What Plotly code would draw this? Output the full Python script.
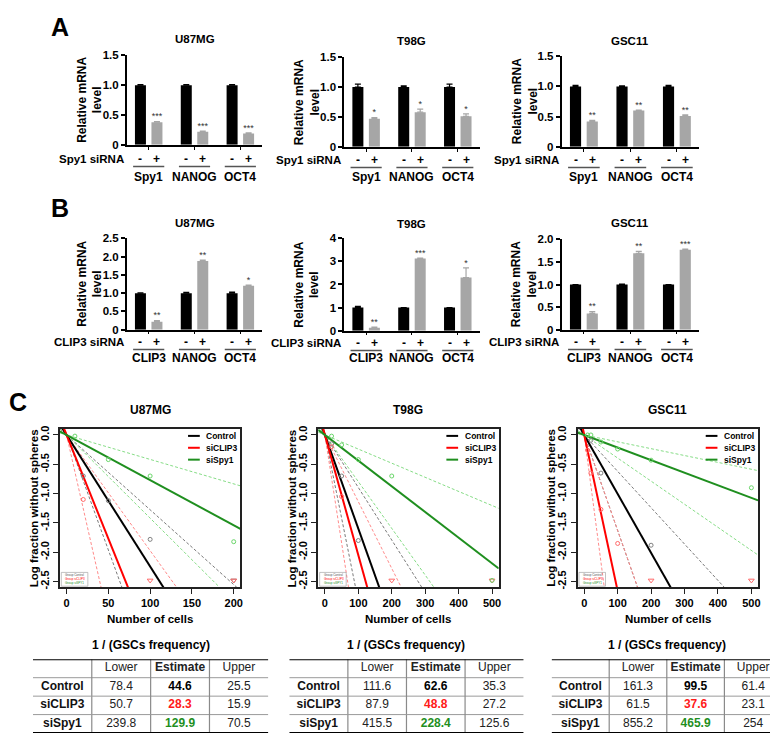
import plotly.graph_objects as go

W, H = 778, 733
FONT = "Liberation Sans, Arial, Helvetica, sans-serif"

# ---------------- Panel A data (Spy1 siRNA) ----------------
genes_a = ["Spy1", "NANOG", "OCT4"]
yticks_a = [0, 0.5, 1.0, 1.5]

a_u87_ctrl = [1.0, 1.0, 1.0]
a_u87_ctrl_err = [0.01, 0.01, 0.01]
a_u87_si = [0.38, 0.22, 0.19]
a_u87_si_err = [0.01, 0.01, 0.01]
a_u87_stars = ["***", "***", "***"]

a_t98_ctrl = [1.0, 1.0, 1.0]
a_t98_ctrl_err = [0.05, 0.02, 0.05]
a_t98_si = [0.47, 0.58, 0.51]
a_t98_si_err = [0.02, 0.05, 0.04]
a_t98_stars = ["*", "*", "*"]

a_gsc_ctrl = [1.0, 1.0, 1.0]
a_gsc_ctrl_err = [0.02, 0.01, 0.02]
a_gsc_si = [0.42, 0.60, 0.51]
a_gsc_si_err = [0.02, 0.01, 0.02]
a_gsc_stars = ["**", "**", "**"]

# ---------------- Panel B data (CLIP3 siRNA) ----------------
genes_b = ["CLIP3", "NANOG", "OCT4"]
yticks_b_u87 = [0, 0.5, 1.0, 1.5, 2.0, 2.5]
yticks_b_t98 = [0, 1, 2, 3, 4]
yticks_b_gsc = [0, 0.5, 1.0, 1.5, 2.0]

b_u87_ctrl = [1.0, 1.0, 1.0]
b_u87_ctrl_err = [0.01, 0.02, 0.03]
b_u87_si = [0.22, 1.88, 1.20]
b_u87_si_err = [0.03, 0.02, 0.02]
b_u87_stars = ["**", "**", "*"]

b_t98_ctrl = [1.0, 1.0, 1.0]
b_t98_ctrl_err = [0.05, 0.0, 0.0]
b_t98_si = [0.13, 3.12, 2.30]
b_t98_si_err = [0.03, 0.02, 0.42]
b_t98_stars = ["**", "***", "*"]

b_gsc_ctrl = [1.0, 1.0, 1.0]
b_gsc_ctrl_err = [0.0, 0.01, 0.0]
b_gsc_si = [0.36, 1.69, 1.77]
b_gsc_si_err = [0.04, 0.04, 0.01]
b_gsc_stars = ["**", "**", "***"]

# ---------------- Panel C data (ELDA) ----------------
groups = ["Control", "siCLIP3", "siSpy1"]

u87_lower = [78.4, 50.7, 239.8]
u87_est = [44.6, 28.3, 129.9]
u87_upper = [25.5, 15.9, 70.5]
t98_lower = [111.6, 87.9, 415.5]
t98_est = [62.6, 48.8, 228.4]
t98_upper = [35.3, 27.2, 125.6]
gsc_lower = [161.3, 61.5, 855.2]
gsc_est = [99.5, 37.6, 465.9]
gsc_upper = [61.4, 23.1, 254]

# observed log fraction without spheres (circles) per group
u87_dose = [[20, 50, 100], [20], [10, 50, 100, 200]]
u87_logfrac = [[-0.70, -1.12, -1.78], [-1.10], [-0.02, -0.42, -0.70, -1.82]]
u87_all_sphere = [[200], [100, 200], []]

t98_dose = [[20, 50, 100], [20, 50], [20, 50, 100, 200, 500]]
t98_logfrac = [[-0.15, -0.70, -1.80], [-0.20, -1.05], [-0.02, -0.17, -0.42, -0.70, -2.48]]
t98_all_sphere = [[], [200, 500], []]

gsc_dose = [[20, 50, 200], [10, 20, 50, 100], [10, 20, 50, 100, 200, 500]]
gsc_logfrac = [[-0.09, -0.65, -1.88], [-0.26, -0.65, -1.27, -1.85],
               [0.0, 0.0, -0.12, -0.24, -0.43, -0.90]]
gsc_all_sphere = [[], [200, 500], []]

u87_xticks = [0, 50, 100, 150, 200]
big_xticks = [0, 100, 200, 300, 400, 500]
elda_yticks = [0.0, -0.5, -1.0, -1.5, -2.0, -2.5]

# ---------------- styles ----------------
solid_colors = ["black", "#ff0000", "#1f8f1f"]
dash_colors = ["#7a7a7a", "#ff8a8a", "#86dc86"]
point_colors = ["#808080", "#ff6a6a", "#6ad66a"]
est_colors = ["black", "#ff1a1a", "#1f8f1f"]

fig = go.Figure()
ann, shp, axes = [], [], {}


def xn(i): return "xaxis" if i == 1 else f"xaxis{i}"
def yn(i): return "yaxis" if i == 1 else f"yaxis{i}"
def xr(i): return "x" if i == 1 else f"x{i}"
def yr(i): return "y" if i == 1 else f"y{i}"
def px(v): return v / W
def py(v): return 1 - v / H


def font(size, color="black", bold=True):
    return dict(family=FONT, size=size, color=color, weight="bold" if bold else "normal")


def label(x, y, s, size, xref="paper", yref="paper", xanchor="center",
          yanchor="middle", angle=0, color="black", bold=True):
    ann.append(dict(x=x, y=y, xref=xref, yref=yref, text=s, showarrow=False,
                    xanchor=xanchor, yanchor=yanchor, textangle=angle,
                    font=font(size, color, bold)))


OFF = 0.18
BW = 0.24


def bar_panel(i, box, yticks, dec, cell, genes, ctrl, ctrl_err, si, si_err, stars,
              sirna, title_y, row_y, ul_y, gene_y):
    l, r, t, b = box
    n = len(genes)
    xc = [k - OFF for k in range(n)]
    xs = [k + OFF for k in range(n)]
    fig.add_trace(go.Bar(x=xc, y=ctrl, width=BW, marker=dict(color="black", line=dict(width=0)),
                         error_y=dict(type="data", symmetric=False, array=ctrl_err,
                                      arrayminus=[0] * n, color="black", thickness=1.2, width=3),
                         xaxis=xr(i), yaxis=yr(i), hoverinfo="skip"))
    fig.add_trace(go.Bar(x=xs, y=si, width=BW, marker=dict(color="#a6a6a6", line=dict(width=0)),
                         error_y=dict(type="data", symmetric=False, array=si_err,
                                      arrayminus=[0] * n, color="#a6a6a6", thickness=1.2, width=3),
                         xaxis=xr(i), yaxis=yr(i), hoverinfo="skip"))
    fig.add_trace(go.Scatter(x=xs, y=[v + e for v, e in zip(si, si_err)], mode="text",
                             text=stars, textposition="top center",
                             textfont=dict(family=FONT, size=9, color="#333333"),
                             cliponaxis=False, xaxis=xr(i), yaxis=yr(i), hoverinfo="skip"))
    axes[xn(i)] = dict(domain=[px(l), px(r)], anchor=yr(i), range=[-0.48, n - 0.52],
                       showline=True, linecolor="black", linewidth=1.5, ticks="outside",
                       tickvals=list(range(n)), ticklen=3, tickwidth=1.2, tickcolor="black",
                       showticklabels=False, showgrid=False, zeroline=False)
    ticktext = ["0" if v == 0 else f"{v:.{dec}f}" for v in yticks]
    axes[yn(i)] = dict(domain=[py(b), py(t)], anchor=xr(i), range=[0, yticks[-1]],
                       showline=True, linecolor="black", linewidth=1.5, ticks="outside",
                       tickvals=yticks, ticktext=ticktext, ticklen=4, tickwidth=1.5,
                       tickcolor="black", tickfont=font(11.5), showgrid=False, zeroline=False)
    label(px((l + r) / 2), py(title_y), cell, 11.5)
    label(px(l - 37), py((t + b) / 2), "Relative mRNA<br>level", 12, angle=-90)
    label(px(l - 1), py(row_y), sirna, 11.5, xanchor="right")
    for k in range(n):
        label(xc[k], py(row_y), "-", 12, xref=xr(i))
        label(xs[k], py(row_y), "+", 12, xref=xr(i))
        label(k, py(gene_y), genes[k], 12, xref=xr(i))
        shp.append(dict(type="line", xref=xr(i), yref="paper", x0=k - 0.34, x1=k + 0.34,
                        y0=py(ul_y), y1=py(ul_y), line=dict(color="#555555", width=1.5)))


def elda_panel(i, box, xrange, xticks, cell, est, lower, upper, dose, logfrac, all_sphere):
    l, r, t, b = box
    xa, ya = xr(i), yr(i)
    for g in range(len(groups)):
        for bound in (lower[g], upper[g]):
            fig.add_trace(go.Scatter(x=xrange, y=[-x / bound for x in xrange], mode="lines",
                                     line=dict(color=dash_colors[g], width=1, dash="3px,2px"),
                                     xaxis=xa, yaxis=ya, hoverinfo="skip"))
    for g in range(len(groups)):
        fig.add_trace(go.Scatter(x=xrange, y=[-x / est[g] for x in xrange], mode="lines",
                                 line=dict(color=solid_colors[g], width=2),
                                 xaxis=xa, yaxis=ya, hoverinfo="skip"))
    for g in range(len(groups)):
        fig.add_trace(go.Scatter(x=dose[g], y=logfrac[g], mode="markers",
                                 marker=dict(symbol="circle-open", size=4, color=point_colors[g],
                                             line=dict(width=1)),
                                 xaxis=xa, yaxis=ya, hoverinfo="skip"))
        fig.add_trace(go.Scatter(x=all_sphere[g], y=[elda_yticks[-1] + 0.02] * len(all_sphere[g]),
                                 mode="markers",
                                 marker=dict(symbol="triangle-down-open", size=5,
                                             color=point_colors[g], line=dict(width=1)),
                                 xaxis=xa, yaxis=ya, hoverinfo="skip"))
    axes[xn(i)] = dict(domain=[px(l), px(r)], anchor=ya, range=xrange, showline=True,
                       mirror=True, linecolor="#222222", linewidth=1.5, ticks="outside",
                       tickvals=xticks, ticklen=5, tickwidth=1.2, tickcolor="#222222",
                       tickfont=font(11), showgrid=False, zeroline=False)
    axes[yn(i)] = dict(domain=[py(b), py(t)], anchor=xa, range=[-2.6, 0.1], showline=True,
                       mirror=True, linecolor="#222222", linewidth=1.5, ticks="outside",
                       tickvals=elda_yticks, ticktext=[f"{v:.1f}" for v in elda_yticks],
                       tickangle=-90, ticklen=5, tickwidth=1.2, tickcolor="#222222",
                       tickfont=font(11), showgrid=False, zeroline=False)
    label(px((l + r) / 2), py(403), cell, 12)
    label(px((l + r) / 2), py(615), "Number of cells", 11.5)
    label(px(l - 26), py((t + b) / 2), "Log fraction without spheres", 11.5, angle=-90)
    # legend
    for g, name in enumerate(groups):
        yy = 0.957 - 0.075 * g
        shp.append(dict(type="line", xref=f"{xa} domain", yref=f"{ya} domain",
                        x0=0.71, x1=0.775, y0=yy, y1=yy,
                        line=dict(color=solid_colors[g], width=2)))
        label(0.80, yy, name, 8.5, xref=f"{xa} domain", yref=f"{ya} domain", xanchor="left")
    # tiny group legend bottom-left
    shp.append(dict(type="rect", xref=f"{xa} domain", yref=f"{ya} domain",
                    x0=0.008, x1=0.155, y0=0.008, y1=0.095,
                    line=dict(color="#999999", width=0.6)))
    for g, name in enumerate(["Group Control", "Group siCLIP3", "Group siSPY1"]):
        label(0.02, 0.077 - 0.026 * g, name, 3, xref=f"{xa} domain", yref=f"{ya} domain",
              xanchor="left", color=solid_colors[g] if g else "#555555", bold=False)


def table_panel(i, box, lower, est, upper):
    l, r, t, b = box
    xa, ya = xr(i), yr(i)
    axes[xn(i)] = dict(domain=[px(l), px(r)], anchor=ya, range=[0, 4], visible=False)
    axes[yn(i)] = dict(domain=[py(b), py(t)], anchor=xa, range=[4, 0], visible=False)
    label(px((l + r) / 2), py(642), "1 / (GSCs frequency)", 12)
    tf = dict(family=FONT, size=12, color="#222222")
    fig.add_trace(go.Scatter(x=[1.5, 2.5, 3.5], y=[0.5] * 3, mode="text",
                             text=["Lower", "<b>Estimate</b>", "Upper"], textfont=tf,
                             xaxis=xa, yaxis=ya, hoverinfo="skip"))
    rows = [g + 1.5 for g in range(len(groups))]
    fig.add_trace(go.Scatter(x=[0.5] * 3, y=rows, mode="text",
                             text=[f"<b>{g}</b>" for g in groups],
                             textfont=dict(family=FONT, size=12, color="#111111"),
                             xaxis=xa, yaxis=ya, hoverinfo="skip"))
    fig.add_trace(go.Scatter(x=[1.5] * 3, y=rows, mode="text", text=[f"{v:g}" for v in lower],
                             textfont=tf, xaxis=xa, yaxis=ya, hoverinfo="skip"))
    fig.add_trace(go.Scatter(x=[2.5] * 3, y=rows, mode="text", text=[f"<b>{v:g}</b>" for v in est],
                             textfont=dict(family=FONT, size=12, color=est_colors),
                             xaxis=xa, yaxis=ya, hoverinfo="skip"))
    fig.add_trace(go.Scatter(x=[3.5] * 3, y=rows, mode="text", text=[f"{v:g}" for v in upper],
                             textfont=tf, xaxis=xa, yaxis=ya, hoverinfo="skip"))
    for k in range(1, 4):
        shp.append(dict(type="line", xref=xa, yref=ya, x0=0, x1=4, y0=k, y1=k,
                        line=dict(color="#9a9a9a", width=1)))
        shp.append(dict(type="line", xref=xa, yref=ya, x0=k, x1=k, y0=0, y1=4,
                        line=dict(color="#8a8a8a", width=1.2)))
    for k in (0, 4):
        shp.append(dict(type="line", xref=xa, yref=ya, x0=0, x1=4, y0=k, y1=k,
                        line=dict(color="black", width=2)))


# Panel A
bar_panel(1, (119, 255, 42, 133), yticks_a, 1, "U87MG", genes_a, a_u87_ctrl, a_u87_ctrl_err,
          a_u87_si, a_u87_si_err, a_u87_stars, "Spy1 siRNA", 25, 147, 155, 166)
bar_panel(2, (337, 473, 44, 135), yticks_a, 1, "T98G", genes_a, a_t98_ctrl, a_t98_ctrl_err,
          a_t98_si, a_t98_si_err, a_t98_stars, "Spy1 siRNA", 27, 148, 156, 166)
bar_panel(3, (555, 693, 43, 135), yticks_a, 1, "GSC11", genes_a, a_gsc_ctrl, a_gsc_ctrl_err,
          a_gsc_si, a_gsc_si_err, a_gsc_stars, "Spy1 siRNA", 27, 148, 156, 166)
# Panel B
bar_panel(4, (119, 255, 228, 321), yticks_b_u87, 1, "U87MG", genes_b, b_u87_ctrl, b_u87_ctrl_err,
          b_u87_si, b_u87_si_err, b_u87_stars, "CLIP3 siRNA", 212, 333, 341, 350)
bar_panel(5, (337, 473, 228, 322), yticks_b_t98, 0, "T98G", genes_b, b_t98_ctrl, b_t98_ctrl_err,
          b_t98_si, b_t98_si_err, b_t98_stars, "CLIP3 siRNA", 213, 334, 342, 350)
bar_panel(6, (555, 693, 229, 321), yticks_b_gsc, 1, "GSC11", genes_b, b_gsc_ctrl, b_gsc_ctrl_err,
          b_gsc_si, b_gsc_si_err, b_gsc_stars, "CLIP3 siRNA", 212, 333, 341, 350)
# Panel C
elda_panel(7, (52, 233, 422, 583), [-8, 208], u87_xticks, "U87MG", u87_est, u87_lower, u87_upper,
           u87_dose, u87_logfrac, u87_all_sphere)
elda_panel(8, (311, 492, 422, 583), [-20, 520], big_xticks, "T98G", t98_est, t98_lower, t98_upper,
           t98_dose, t98_logfrac, t98_all_sphere)
elda_panel(9, (571, 752, 422, 583), [-20, 520], big_xticks, "GSC11", gsc_est, gsc_lower, gsc_upper,
           gsc_dose, gsc_logfrac, gsc_all_sphere)
table_panel(10, (25, 261, 656, 731), u87_lower, u87_est, u87_upper)
table_panel(11, (282, 517, 656, 731), t98_lower, t98_est, t98_upper)
table_panel(12, (545, 776, 656, 731), gsc_lower, gsc_est, gsc_upper)

# panel letters
label(px(52), py(13), "A", 25)
label(px(52), py(197), "B", 25)
label(px(10), py(394), "C", 25)

fig.update_layout(width=W, height=H, margin=dict(l=0, r=0, t=0, b=0),
                  paper_bgcolor="white", plot_bgcolor="white", showlegend=False,
                  barmode="overlay", annotations=ann, shapes=shp,
                  font=dict(family=FONT), **axes)
fig.write_html("out.html")
